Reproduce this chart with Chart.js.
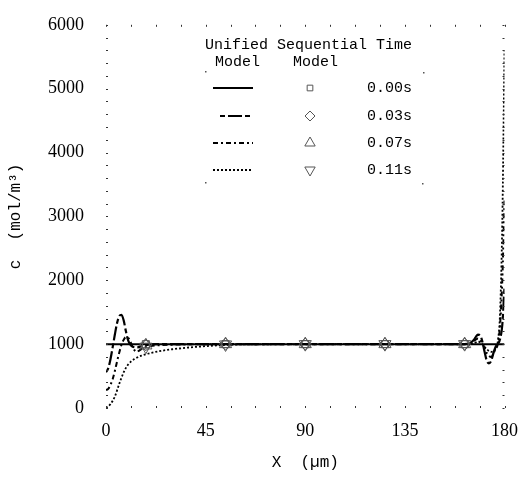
<!DOCTYPE html>
<html>
<head>
<meta charset="utf-8">
<script src="https://cdn.jsdelivr.net/npm/chart.js@4/dist/chart.umd.min.js"></script>
<style>
  html, body { margin: 0; padding: 0; background: #fff; }
  #wrap { width: 522px; height: 482px; position: relative; }
</style>
</head>
<body>
<div id="wrap"><canvas id="conc"></canvas></div>
<script>
// unified model profiles, position in µm, concentration in mol/m3
const x000 = [0, 45, 90, 135, 180];
const c000 = [1000, 1000, 1000, 1000, 1000];

const x003 = [0, 1, 2, 3, 4, 5, 6, 7, 8, 9, 10, 12, 14, 17, 20, 30, 60, 100, 140, 160, 164, 166, 167, 168, 169, 170, 171, 172, 173, 174, 175, 176, 177, 178, 179, 180];
const c003 = [560, 620, 760, 950, 1150, 1330, 1440, 1460, 1370, 1200, 1060, 960, 950, 975, 995, 1000, 1000, 1000, 1000, 1000, 1010, 1060, 1110, 1150, 1140, 1040, 880, 740, 700, 740, 860, 960, 1000, 1080, 1300, 1900];

const x007 = [0, 1, 2, 3, 4, 5, 6, 7, 8, 9, 10, 11, 12, 13, 14, 15, 17, 20, 25, 35, 50, 100, 160, 165, 167, 168, 170, 172, 174, 176, 177, 178, 179, 180];
const c007 = [280, 300, 360, 450, 580, 730, 870, 990, 1070, 1110, 1100, 1040, 960, 900, 880, 900, 940, 970, 985, 995, 1000, 1000, 1000, 1020, 1070, 1090, 1010, 860, 800, 930, 1000, 1300, 2000, 3250];

const x011 = [0, 2, 4, 6, 8, 10, 13, 16, 20, 25, 30, 40, 50, 60, 100, 160, 166, 168, 170, 172, 174, 176, 177, 178, 179, 180];
const c011 = [0, 60, 180, 380, 560, 680, 770, 820, 860, 895, 920, 955, 980, 995, 1000, 1000, 1010, 1040, 1000, 920, 880, 930, 1050, 1500, 2900, 5600];

// sequential model, sampled nodes
const seqX = [18, 54, 90, 126, 162];
const seq000 = [1000, 1000, 1000, 1000, 1000];
const seq003 = [990, 1000, 1000, 1000, 1000];
const seq007 = [980, 1000, 1000, 1000, 1000];
const seq011 = [960, 995, 1000, 1000, 1000];

const times = ['0.00s', '0.03s', '0.07s', '0.11s'];
const xTicks = [0, 45, 90, 135, 180];
const yTicks = [0, 1000, 2000, 3000, 4000, 5000, 6000];

const pts = (xs, ys) => xs.map((x, i) => ({ x: x, y: ys[i] }));

const dashes = [[], [5, 3, 14, 3], [5, 3, 2, 3], [2, 2]];
const widths = [2, 2.2, 2, 1.8];
const markers = [
  { style: 'rect', rot: 0, r: 5 },
  { style: 'rectRot', rot: 0, r: 6 },
  { style: 'triangle', rot: 0, r: 7 },
  { style: 'triangle', rot: 180, r: 7 }
];

const unified = [[x000, c000], [x003, c003], [x007, c007], [x011, c011]];
const sequential = [seq000, seq003, seq007, seq011];

const datasets = [];
unified.forEach((u, i) => {
  datasets.push({
    label: 'unified ' + times[i],
    data: pts(u[0], u[1]),
    showLine: true,
    borderColor: '#000',
    borderWidth: widths[i],
    borderDash: dashes[i],
    pointRadius: 0,
    cubicInterpolationMode: 'monotone',
    order: 2
  });
});
sequential.forEach((s, i) => {
  datasets.push({
    label: 'sequential ' + times[i],
    data: pts(seqX, s),
    showLine: false,
    pointStyle: markers[i].style,
    rotation: markers[i].rot,
    pointRadius: markers[i].r,
    pointBorderColor: '#555',
    pointBorderWidth: 1,
    pointBackgroundColor: 'rgba(0,0,0,0)',
    order: 1
  });
});

// small marks along all four edges instead of a solid frame
const frameTicks = {
  id: 'frameTicks',
  afterDraw(chart) {
    const { ctx, chartArea: a, scales } = chart;
    ctx.save();
    ctx.fillStyle = '#333';
    for (let v = 0; v <= 180.01; v += 11.25) {
      const px = Math.round(scales.x.getPixelForValue(v));
      ctx.fillRect(px, a.bottom - 2, 1, 2);
      ctx.fillRect(px, a.top, 1, 2);
    }
    for (let v = 0; v <= 6000; v += 200) {
      const py = Math.round(scales.y.getPixelForValue(v));
      ctx.fillRect(a.left, py, 2, 1);
      ctx.fillRect(a.right - 2, py, 2, 1);
    }
    ctx.restore();
  }
};

// table style key: line sample, marker, time label
const tableKey = {
  id: 'tableKey',
  afterDraw(chart) {
    const ctx = chart.ctx;
    ctx.save();
    ctx.fillStyle = '#000';
    ctx.font = '15px "Liberation Mono"';
    ctx.textBaseline = 'middle';
    ctx.textAlign = 'left';
    ctx.fillText('Unified Sequential Time', 205, 45);
    ctx.fillText('Model', 215, 62);
    ctx.fillText('Model', 293, 62);

    const rows = [88, 116, 143, 170];
    rows.forEach((y, i) => {
      const ds = chart.data.datasets[i];
      ctx.strokeStyle = '#000';
      ctx.lineWidth = ds.borderWidth;
      ctx.setLineDash(ds.borderDash);
      ctx.beginPath();
      ctx.moveTo(i === 1 ? 220 : 213, y);
      ctx.lineTo(253, y);
      ctx.stroke();
      ctx.setLineDash([]);

      const m = chart.data.datasets[i + 4];
      ctx.strokeStyle = m.pointBorderColor;
      ctx.fillStyle = 'rgba(0,0,0,0)';
      ctx.lineWidth = 1;
      Chart.helpers.drawPoint(ctx, {
        pointStyle: m.pointStyle, rotation: m.rotation,
        radius: m.pointRadius - 1, borderWidth: 1
      }, 310, y);

      ctx.fillStyle = '#000';
      ctx.fillText(times[i], 367, y);
    });

    // corner marks of the key box
    ctx.fillStyle = '#555';
    [[205, 71], [423, 72], [205, 182], [422, 183]].forEach(p => ctx.fillRect(p[0], p[1], 1.5, 1.5));
    ctx.restore();
  }
};

new Chart(document.getElementById('conc'), {
  type: 'scatter',
  data: { datasets: datasets },
  plugins: [frameTicks, tableKey],
  options: {
    responsive: true,
    maintainAspectRatio: false,
    animation: false,
    layout: { padding: { top: 17, right: 16, left: 0, bottom: 0 } },
    plugins: { legend: { display: false }, tooltip: { enabled: false } },
    scales: {
      x: {
        type: 'linear',
        min: 0, max: 180,
        border: { display: false },
        grid: { display: false },
        afterBuildTicks: s => { s.ticks = xTicks.map(v => ({ value: v })); },
        afterFit: s => { s.height = 74; },
        ticks: { color: '#000', padding: 4, maxRotation: 0, callback: v => String(v), font: { family: '"Liberation Serif"', size: 18 } },
        title: { display: true, text: 'X  (µm)', color: '#000', padding: { top: 0, bottom: 10 }, font: { family: '"Liberation Mono"', size: 16 } }
      },
      y: {
        type: 'linear',
        min: 0, max: 6000,
        border: { display: false },
        grid: { display: false },
        afterBuildTicks: s => { s.ticks = yTicks.map(v => ({ value: v })); },
        afterFit: s => { s.width = 106; },
        ticks: { color: '#000', padding: 14, callback: v => String(v), font: { family: '"Liberation Serif"', size: 18 } },
        title: { display: true, text: 'c  (mol/m³)', color: '#000', padding: { top: 6, bottom: 0 }, font: { family: '"Liberation Mono"', size: 16 } }
      }
    }
  }
});
</script>
</body>
</html>
